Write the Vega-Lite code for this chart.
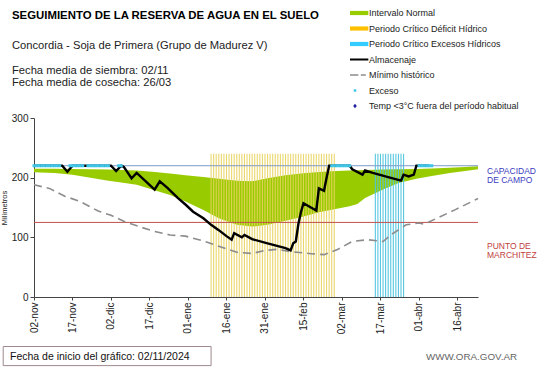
{
  "$schema": "https://vega.github.io/schema/vega-lite/v6.json",
  "width": 444,
  "height": 179,
  "autosize": {"type": "none"},
  "padding": {"left": 34, "top": 118, "right": 63, "bottom": 71},
  "background": "white",
  "config": {
    "view": {"stroke": null},
    "font": "Liberation Sans",
    "axis": {"grid": false, "domainColor": "#444444", "tickColor": "#444444", "labelColor": "#222222", "labelFont": "Liberation Sans", "titleFont": "Liberation Sans"}
  },
  "datasets": {
    "banda": [
      {"fecha": "2024-11-02", "sup": 215, "inf": 209},
      {"fecha": "2024-11-10", "sup": 215, "inf": 208},
      {"fecha": "2024-11-17", "sup": 214.5, "inf": 205},
      {"fecha": "2024-11-24", "sup": 214, "inf": 200},
      {"fecha": "2024-12-01", "sup": 213.5, "inf": 195},
      {"fecha": "2024-12-06", "sup": 213, "inf": 192},
      {"fecha": "2024-12-12", "sup": 212, "inf": 188},
      {"fecha": "2024-12-18", "sup": 210, "inf": 180},
      {"fecha": "2024-12-25", "sup": 207, "inf": 171},
      {"fecha": "2024-12-31", "sup": 204, "inf": 160},
      {"fecha": "2025-01-07", "sup": 201, "inf": 146},
      {"fecha": "2025-01-13", "sup": 198, "inf": 132},
      {"fecha": "2025-01-20", "sup": 195, "inf": 121},
      {"fecha": "2025-01-26", "sup": 194, "inf": 118},
      {"fecha": "2025-02-01", "sup": 199, "inf": 121},
      {"fecha": "2025-02-08", "sup": 204, "inf": 128},
      {"fecha": "2025-02-15", "sup": 207.5, "inf": 135},
      {"fecha": "2025-02-21", "sup": 209.5, "inf": 142},
      {"fecha": "2025-02-28", "sup": 211, "inf": 148},
      {"fecha": "2025-03-05", "sup": 212, "inf": 152},
      {"fecha": "2025-03-08", "sup": 212.5, "inf": 156},
      {"fecha": "2025-03-11", "sup": 213, "inf": 166},
      {"fecha": "2025-03-18", "sup": 213.5, "inf": 180},
      {"fecha": "2025-03-24", "sup": 214, "inf": 191},
      {"fecha": "2025-03-31", "sup": 214.5, "inf": 198},
      {"fecha": "2025-04-06", "sup": 215.5, "inf": 203},
      {"fecha": "2025-04-13", "sup": 216.5, "inf": 208},
      {"fecha": "2025-04-19", "sup": 218, "inf": 211},
      {"fecha": "2025-04-24", "sup": 219, "inf": 214}
    ],
    "periodos": [
      {"fecha": "2025-01-10", "tipo": "deficit"}, {"fecha": "2025-01-11", "tipo": "deficit"}, {"fecha": "2025-01-12", "tipo": "deficit"}, {"fecha": "2025-01-13", "tipo": "deficit"}, {"fecha": "2025-01-14", "tipo": "deficit"}, {"fecha": "2025-01-15", "tipo": "deficit"}, {"fecha": "2025-01-16", "tipo": "deficit"}, {"fecha": "2025-01-17", "tipo": "deficit"}, {"fecha": "2025-01-18", "tipo": "deficit"}, {"fecha": "2025-01-19", "tipo": "deficit"},
      {"fecha": "2025-01-20", "tipo": "deficit"}, {"fecha": "2025-01-21", "tipo": "deficit"}, {"fecha": "2025-01-22", "tipo": "deficit"}, {"fecha": "2025-01-23", "tipo": "deficit"}, {"fecha": "2025-01-24", "tipo": "deficit"}, {"fecha": "2025-01-25", "tipo": "deficit"}, {"fecha": "2025-01-26", "tipo": "deficit"}, {"fecha": "2025-01-27", "tipo": "deficit"}, {"fecha": "2025-01-28", "tipo": "deficit"}, {"fecha": "2025-01-29", "tipo": "deficit"},
      {"fecha": "2025-01-30", "tipo": "deficit"}, {"fecha": "2025-01-31", "tipo": "deficit"}, {"fecha": "2025-02-01", "tipo": "deficit"}, {"fecha": "2025-02-02", "tipo": "deficit"}, {"fecha": "2025-02-03", "tipo": "deficit"}, {"fecha": "2025-02-04", "tipo": "deficit"}, {"fecha": "2025-02-05", "tipo": "deficit"}, {"fecha": "2025-02-06", "tipo": "deficit"}, {"fecha": "2025-02-07", "tipo": "deficit"}, {"fecha": "2025-02-08", "tipo": "deficit"},
      {"fecha": "2025-02-09", "tipo": "deficit"}, {"fecha": "2025-02-10", "tipo": "deficit"}, {"fecha": "2025-02-11", "tipo": "deficit"}, {"fecha": "2025-02-12", "tipo": "deficit"}, {"fecha": "2025-02-13", "tipo": "deficit"}, {"fecha": "2025-02-14", "tipo": "deficit"}, {"fecha": "2025-02-15", "tipo": "deficit"}, {"fecha": "2025-02-16", "tipo": "deficit"}, {"fecha": "2025-02-17", "tipo": "deficit"}, {"fecha": "2025-02-18", "tipo": "deficit"},
      {"fecha": "2025-02-19", "tipo": "deficit"}, {"fecha": "2025-02-20", "tipo": "deficit"}, {"fecha": "2025-02-21", "tipo": "deficit"}, {"fecha": "2025-02-22", "tipo": "deficit"}, {"fecha": "2025-02-23", "tipo": "deficit"}, {"fecha": "2025-02-24", "tipo": "deficit"}, {"fecha": "2025-02-25", "tipo": "deficit"}, {"fecha": "2025-02-26", "tipo": "deficit"}, {"fecha": "2025-02-27", "tipo": "deficit"},
      {"fecha": "2025-03-15", "tipo": "exceso"}, {"fecha": "2025-03-16", "tipo": "exceso"}, {"fecha": "2025-03-17", "tipo": "exceso"}, {"fecha": "2025-03-18", "tipo": "exceso"}, {"fecha": "2025-03-19", "tipo": "exceso"}, {"fecha": "2025-03-20", "tipo": "exceso"}, {"fecha": "2025-03-21", "tipo": "exceso"}, {"fecha": "2025-03-22", "tipo": "exceso"}, {"fecha": "2025-03-23", "tipo": "exceso"}, {"fecha": "2025-03-24", "tipo": "exceso"}, {"fecha": "2025-03-25", "tipo": "exceso"}, {"fecha": "2025-03-26", "tipo": "exceso"}
    ],
    "umbrales": [
      {"nombre": "capacidad", "valor": 220, "etiqueta": "CAPACIDAD\nDE  CAMPO"},
      {"nombre": "marchitez", "valor": 125, "etiqueta": "PUNTO  DE\nMARCHITEZ"}
    ],
    "notas": [
      {"nota": "titulo", "texto": "SEGUIMIENTO DE LA RESERVA DE AGUA EN EL SUELO", "desde": "2024-11-02", "hasta": "2024-11-02"},
      {"nota": "lugar", "texto": "Concordia - Soja de Primera (Grupo de Madurez V)", "desde": "2024-11-02", "hasta": "2024-11-02"},
      {"nota": "fechas", "texto": "Fecha media de siembra: 02/11\nFecha media de cosecha: 26/03", "desde": "2024-11-02", "hasta": "2024-11-02"},
      {"nota": "inicio", "texto": "Fecha de inicio del gráfico:  02/11/2024", "desde": "2024-10-21", "hasta": "2025-01-10"},
      {"nota": "fuente", "texto": "WWW.ORA.GOV.AR", "desde": "2025-04-24", "hasta": "2025-04-24"}
    ],
    "almacenaje": [
      {"fecha": "2024-11-02", "mm": 220}, {"fecha": "2024-11-13", "mm": 220}, {"fecha": "2024-11-15", "mm": 210}, {"fecha": "2024-11-17", "mm": 220},
      {"fecha": "2024-12-02", "mm": 220}, {"fecha": "2024-12-04", "mm": 211}, {"fecha": "2024-12-06", "mm": 220}, {"fecha": "2024-12-07", "mm": 218},
      {"fecha": "2024-12-10", "mm": 199}, {"fecha": "2024-12-12", "mm": 208}, {"fecha": "2024-12-19", "mm": 180}, {"fecha": "2024-12-21", "mm": 194},
      {"fecha": "2024-12-24", "mm": 183}, {"fecha": "2024-12-28", "mm": 166}, {"fecha": "2024-12-31", "mm": 155}, {"fecha": "2025-01-03", "mm": 143},
      {"fecha": "2025-01-07", "mm": 132}, {"fecha": "2025-01-10", "mm": 121}, {"fecha": "2025-01-13", "mm": 112}, {"fecha": "2025-01-16", "mm": 102},
      {"fecha": "2025-01-18", "mm": 96}, {"fecha": "2025-01-19", "mm": 107}, {"fecha": "2025-01-22", "mm": 100}, {"fecha": "2025-01-23", "mm": 104},
      {"fecha": "2025-01-26", "mm": 97}, {"fecha": "2025-02-01", "mm": 90}, {"fecha": "2025-02-08", "mm": 82}, {"fecha": "2025-02-10", "mm": 78},
      {"fecha": "2025-02-11", "mm": 90}, {"fecha": "2025-02-12", "mm": 93}, {"fecha": "2025-02-13", "mm": 122}, {"fecha": "2025-02-14", "mm": 142},
      {"fecha": "2025-02-15", "mm": 157}, {"fecha": "2025-02-20", "mm": 145}, {"fecha": "2025-02-21", "mm": 182}, {"fecha": "2025-02-23", "mm": 178},
      {"fecha": "2025-02-24", "mm": 200}, {"fecha": "2025-02-25", "mm": 220}, {"fecha": "2025-03-05", "mm": 220}, {"fecha": "2025-03-06", "mm": 214},
      {"fecha": "2025-03-10", "mm": 205}, {"fecha": "2025-03-11", "mm": 212}, {"fecha": "2025-03-14", "mm": 208}, {"fecha": "2025-03-20", "mm": 201},
      {"fecha": "2025-03-25", "mm": 195}, {"fecha": "2025-03-26", "mm": 205}, {"fecha": "2025-03-28", "mm": 202}, {"fecha": "2025-03-30", "mm": 205},
      {"fecha": "2025-03-31", "mm": 220}, {"fecha": "2025-04-05", "mm": 220}
    ],
    "minimo": [
      {"fecha": "2024-11-02", "mm": 188}, {"fecha": "2024-11-08", "mm": 182}, {"fecha": "2024-11-14", "mm": 169}, {"fecha": "2024-11-20", "mm": 160},
      {"fecha": "2024-11-27", "mm": 144}, {"fecha": "2024-12-02", "mm": 137}, {"fecha": "2024-12-08", "mm": 125}, {"fecha": "2024-12-13", "mm": 118},
      {"fecha": "2024-12-18", "mm": 111}, {"fecha": "2024-12-25", "mm": 104}, {"fecha": "2024-12-31", "mm": 102}, {"fecha": "2025-01-07", "mm": 94},
      {"fecha": "2025-01-13", "mm": 85}, {"fecha": "2025-01-20", "mm": 75}, {"fecha": "2025-01-26", "mm": 73}, {"fecha": "2025-01-31", "mm": 78},
      {"fecha": "2025-02-05", "mm": 80}, {"fecha": "2025-02-10", "mm": 76}, {"fecha": "2025-02-17", "mm": 73}, {"fecha": "2025-02-23", "mm": 71},
      {"fecha": "2025-02-28", "mm": 79}, {"fecha": "2025-03-06", "mm": 93}, {"fecha": "2025-03-12", "mm": 96}, {"fecha": "2025-03-18", "mm": 93},
      {"fecha": "2025-03-21", "mm": 104}, {"fecha": "2025-03-27", "mm": 121}, {"fecha": "2025-04-01", "mm": 124}, {"fecha": "2025-04-03", "mm": 122},
      {"fecha": "2025-04-08", "mm": 132}, {"fecha": "2025-04-15", "mm": 146}, {"fecha": "2025-04-24", "mm": 165}
    ],
    "excesos": [
      {"fecha": "2024-11-02", "mm": 220, "serie": "Exceso"}, {"fecha": "2024-11-03", "mm": 220, "serie": "Exceso"}, {"fecha": "2024-11-04", "mm": 220, "serie": "Exceso"}, {"fecha": "2024-11-05", "mm": 220, "serie": "Exceso"},
      {"fecha": "2024-11-06", "mm": 220, "serie": "Exceso"}, {"fecha": "2024-11-07", "mm": 220, "serie": "Exceso"}, {"fecha": "2024-11-08", "mm": 220, "serie": "Exceso"}, {"fecha": "2024-11-09", "mm": 220, "serie": "Exceso"},
      {"fecha": "2024-11-10", "mm": 220, "serie": "Exceso"}, {"fecha": "2024-11-11", "mm": 220, "serie": "Exceso"}, {"fecha": "2024-11-12", "mm": 220, "serie": "Exceso"},
      {"fecha": "2024-11-16", "mm": 220, "serie": "Exceso"}, {"fecha": "2024-11-17", "mm": 220, "serie": "Exceso"}, {"fecha": "2024-11-18", "mm": 220, "serie": "Exceso"}, {"fecha": "2024-11-19", "mm": 220, "serie": "Exceso"},
      {"fecha": "2024-11-20", "mm": 220, "serie": "Exceso"}, {"fecha": "2024-11-21", "mm": 220, "serie": "Exceso"},
      {"fecha": "2024-11-23", "mm": 220, "serie": "Exceso"}, {"fecha": "2024-11-24", "mm": 220, "serie": "Exceso"}, {"fecha": "2024-11-25", "mm": 220, "serie": "Exceso"}, {"fecha": "2024-11-26", "mm": 220, "serie": "Exceso"},
      {"fecha": "2024-11-27", "mm": 220, "serie": "Exceso"}, {"fecha": "2024-11-28", "mm": 220, "serie": "Exceso"}, {"fecha": "2024-11-29", "mm": 220, "serie": "Exceso"}, {"fecha": "2024-11-30", "mm": 220, "serie": "Exceso"},
      {"fecha": "2024-12-01", "mm": 220, "serie": "Exceso"},
      {"fecha": "2024-12-05", "mm": 220, "serie": "Exceso"}, {"fecha": "2024-12-06", "mm": 220, "serie": "Exceso"},
      {"fecha": "2025-02-26", "mm": 220, "serie": "Exceso"}, {"fecha": "2025-02-27", "mm": 220, "serie": "Exceso"}, {"fecha": "2025-02-28", "mm": 220, "serie": "Exceso"}, {"fecha": "2025-03-01", "mm": 220, "serie": "Exceso"},
      {"fecha": "2025-03-02", "mm": 220, "serie": "Exceso"}, {"fecha": "2025-03-03", "mm": 220, "serie": "Exceso"}, {"fecha": "2025-03-04", "mm": 220, "serie": "Exceso"}, {"fecha": "2025-03-05", "mm": 220, "serie": "Exceso"},
      {"fecha": "2025-04-01", "mm": 220, "serie": "Exceso"}, {"fecha": "2025-04-02", "mm": 220, "serie": "Exceso"}, {"fecha": "2025-04-03", "mm": 220, "serie": "Exceso"}, {"fecha": "2025-04-04", "mm": 220, "serie": "Exceso"},
      {"fecha": "2025-04-05", "mm": 220, "serie": "Exceso"}, {"fecha": "2025-04-06", "mm": 220, "serie": "Exceso"}
    ]
  },
  "layer": [
    {
      "data": {"name": "banda"},
      "mark": {"type": "area", "color": "#99CC00", "opacity": 1},
      "encoding": {
        "x": {
          "field": "fecha", "type": "temporal",
          "scale": {"type": "utc", "domain": [{"year": 2024, "month": 11, "date": 2, "utc": true}, {"year": 2025, "month": 4, "date": 24, "utc": true}]},
          "axis": {
            "title": null,
            "values": [
              {"year": 2024, "month": 11, "date": 2, "utc": true}, {"year": 2024, "month": 11, "date": 17, "utc": true},
              {"year": 2024, "month": 12, "date": 2, "utc": true}, {"year": 2024, "month": 12, "date": 17, "utc": true},
              {"year": 2025, "month": 1, "date": 1, "utc": true}, {"year": 2025, "month": 1, "date": 16, "utc": true},
              {"year": 2025, "month": 1, "date": 31, "utc": true}, {"year": 2025, "month": 2, "date": 15, "utc": true},
              {"year": 2025, "month": 3, "date": 2, "utc": true}, {"year": 2025, "month": 3, "date": 17, "utc": true},
              {"year": 2025, "month": 4, "date": 1, "utc": true}, {"year": 2025, "month": 4, "date": 16, "utc": true}
            ],
            "labelExpr": "utcFormat(datum.value, '%d') + '-' + ['ene','feb','mar','abr','may','jun','jul','ago','sep','oct','nov','dic'][utcmonth(datum.value)]",
            "labelAngle": -90, "labelAlign": "right", "labelBaseline": "middle",
            "labelFontSize": 10, "labelPadding": 2, "tickSize": 3, "labelFlush": false, "labelOverlap": false
          }
        },
        "y": {
          "field": "sup", "type": "quantitative",
          "scale": {"domain": [0, 300], "nice": false},
          "axis": {"title": "Milímetros", "values": [0, 50, 100, 150, 200, 250, 300], "labelFontSize": 10, "tickSize": 4, "labelPadding": 2, "titleFontSize": 7.5, "titleFontWeight": "normal", "titleColor": "#222222", "titlePadding": 3}
        },
        "y2": {"field": "inf"}
      }
    },
    {
      "data": {"name": "periodos"},
      "transform": [{"filter": "datum.tipo == 'deficit'"}],
      "mark": {"type": "rule", "color": "#E8D35E", "strokeWidth": 1.1, "opacity": 0.9},
      "encoding": {"x": {"field": "fecha", "type": "temporal"}, "y": {"datum": 0}, "y2": {"datum": 240}}
    },
    {
      "data": {"name": "periodos"},
      "transform": [{"filter": "datum.tipo == 'exceso'"}],
      "mark": {"type": "rule", "color": "#4FC4DE", "strokeWidth": 1.1, "opacity": 0.95},
      "encoding": {"x": {"field": "fecha", "type": "temporal"}, "y": {"datum": 0}, "y2": {"datum": 240}}
    },
    {
      "data": {"name": "umbrales"},
      "transform": [{"filter": "datum.nombre == 'capacidad'"}],
      "mark": {"type": "rule", "color": "#7F9CC8", "strokeWidth": 1},
      "encoding": {"y": {"field": "valor", "type": "quantitative"}}
    },
    {
      "data": {"name": "umbrales"},
      "transform": [{"filter": "datum.nombre == 'marchitez'"}],
      "mark": {"type": "rule", "color": "#C0504D", "strokeWidth": 1},
      "encoding": {"y": {"field": "valor", "type": "quantitative"}}
    },
    {
      "data": {"name": "minimo"},
      "mark": {"type": "line", "color": "#8C8C8C", "strokeWidth": 1.6, "strokeDash": [8, 5]},
      "encoding": {"x": {"field": "fecha", "type": "temporal"}, "y": {"field": "mm", "type": "quantitative"}}
    },
    {
      "data": {"name": "almacenaje"},
      "mark": {"type": "line", "color": "#000000", "strokeWidth": 2.4},
      "encoding": {"x": {"field": "fecha", "type": "temporal"}, "y": {"field": "mm", "type": "quantitative"}}
    },
    {
      "data": {"name": "excesos"},
      "mark": {"type": "point", "filled": true, "size": 144, "opacity": 1, "strokeWidth": 0},
      "encoding": {
        "x": {"field": "fecha", "type": "temporal"},
        "y": {"field": "mm", "type": "quantitative"},
        "color": {
          "field": "serie", "type": "nominal",
          "scale": {
            "domain": ["Intervalo Normal", "Periodo Crítico Déficit Hídrico", "Periodo Crítico Excesos Hídricos", "Almacenaje", "Mínimo histórico", "Exceso", "Temp <3°C fuera del período habitual"],
            "range": ["#99CC00", "#FFC000", "#33CCFF", "#000000", "#8C8C8C", "#3FC6E8", "#1F1FA0"]
          },
          "legend": {
            "title": null, "orient": "none", "legendX": 316, "legendY": -110, "direction": "vertical", "columns": 1,
            "labelFont": "Liberation Sans", "labelFontSize": 9, "labelColor": "#222222", "rowPadding": 5.5, "labelOffset": 9, "padding": 0, "symbolStrokeWidth": 0
          }
        },
        "shape": {
          "field": "serie", "type": "nominal",
          "scale": {
            "domain": ["Intervalo Normal", "Periodo Crítico Déficit Hídrico", "Periodo Crítico Excesos Hídricos", "Almacenaje", "Mínimo histórico", "Exceso", "Temp <3°C fuera del período habitual"],
            "range": [
              "M-1,-0.42H2.67V0.42H-1Z",
              "M-1,-0.42H2.67V0.42H-1Z",
              "M-1,-0.42H2.67V0.42H-1Z",
              "M-1,-0.2H2.67V0.2H-1Z",
              "M-1,-0.15H0.67V0.15H-1Z M1.17,-0.15H2.17V0.15H1.17Z",
              "M-0.25,-0.25H0.25V0.25H-0.25Z",
              "M0,-0.45L0.35,0L0,0.45L-0.35,0Z"
            ]
          },
          "legend": {
            "title": null, "orient": "none", "legendX": 316, "legendY": -110, "direction": "vertical", "columns": 1,
            "labelFont": "Liberation Sans", "labelFontSize": 9, "labelColor": "#222222", "rowPadding": 5.5, "labelOffset": 9, "padding": 0, "symbolStrokeWidth": 0
          }
        }
      }
    },
    {
      "data": {"name": "umbrales"},
      "transform": [{"filter": "datum.nombre == 'capacidad'"}],
      "mark": {"type": "text", "align": "left", "baseline": "top", "dx": 9, "dy": 1, "color": "#3A3AC0", "fontSize": 8.5, "lineBreak": "\n", "lineHeight": 9},
      "encoding": {"x": {"datum": {"year": 2025, "month": 4, "date": 24, "utc": true}}, "y": {"field": "valor", "type": "quantitative"}, "text": {"field": "etiqueta"}}
    },
    {
      "data": {"name": "umbrales"},
      "transform": [{"filter": "datum.nombre == 'marchitez'"}],
      "mark": {"type": "text", "align": "left", "baseline": "top", "dx": 9, "dy": 20, "color": "#C04040", "fontSize": 8.5, "lineBreak": "\n", "lineHeight": 9},
      "encoding": {"x": {"datum": {"year": 2025, "month": 4, "date": 24, "utc": true}}, "y": {"field": "valor", "type": "quantitative"}, "text": {"field": "etiqueta"}}
    },
    {
      "data": {"name": "notas"},
      "transform": [{"filter": "datum.nota == 'titulo'"}],
      "mark": {"type": "text", "align": "left", "baseline": "alphabetic", "dx": -22, "dy": -99, "fontSize": 11.4, "fontWeight": "bold", "color": "#000000"},
      "encoding": {"x": {"field": "desde", "type": "temporal"}, "y": {"datum": 300}, "text": {"field": "texto"}}
    },
    {
      "data": {"name": "notas"},
      "transform": [{"filter": "datum.nota == 'lugar'"}],
      "mark": {"type": "text", "align": "left", "baseline": "alphabetic", "dx": -22, "dy": -69.3, "fontSize": 11.2, "color": "#222222"},
      "encoding": {"x": {"field": "desde", "type": "temporal"}, "y": {"datum": 300}, "text": {"field": "texto"}}
    },
    {
      "data": {"name": "notas"},
      "transform": [{"filter": "datum.nota == 'fechas'"}],
      "mark": {"type": "text", "align": "left", "baseline": "alphabetic", "dx": -22, "dy": -44.3, "fontSize": 11.2, "color": "#222222", "lineBreak": "\n", "lineHeight": 12},
      "encoding": {"x": {"field": "desde", "type": "temporal"}, "y": {"datum": 300}, "text": {"field": "texto"}}
    },
    {
      "data": {"name": "notas"},
      "transform": [{"filter": "datum.nota == 'inicio'"}],
      "mark": {"type": "rect", "fill": "white", "stroke": "#9E8A8A", "strokeWidth": 1},
      "encoding": {
        "x": {"field": "desde", "type": "temporal"},
        "x2": {"field": "hasta"},
        "y": {"datum": -83},
        "y2": {"datum": -115}
      }
    },
    {
      "data": {"name": "notas"},
      "transform": [{"filter": "datum.nota == 'inicio'"}],
      "mark": {"type": "text", "align": "left", "baseline": "middle", "dx": -24, "dy": 60, "fontSize": 10.5, "color": "#111111"},
      "encoding": {"x": {"datum": {"year": 2024, "month": 11, "date": 2, "utc": true}}, "y": {"datum": 0}, "text": {"field": "texto"}}
    },
    {
      "data": {"name": "notas"},
      "transform": [{"filter": "datum.nota == 'fuente'"}],
      "mark": {"type": "text", "align": "right", "baseline": "middle", "dx": 39, "dy": 60, "fontSize": 9.8, "color": "#666666"},
      "encoding": {"x": {"field": "desde", "type": "temporal"}, "y": {"datum": 0}, "text": {"field": "texto"}}
    }
  ]
}
